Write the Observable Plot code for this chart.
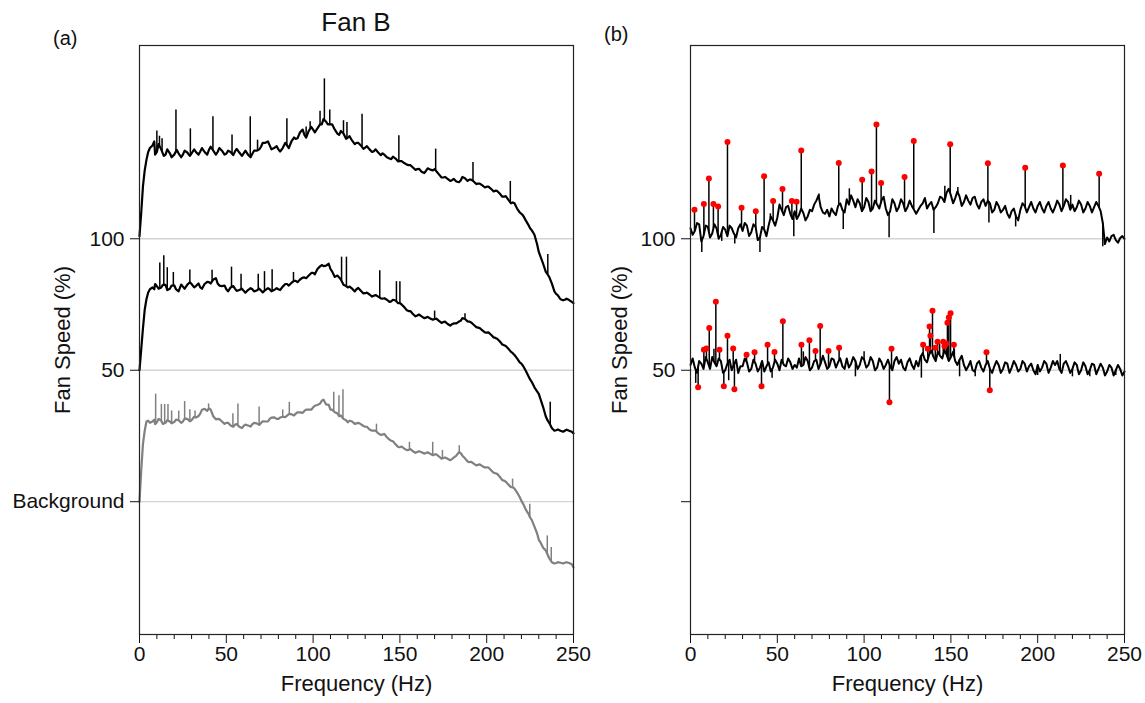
<!DOCTYPE html>
<html><head><meta charset="utf-8">
<script src="https://cdn.jsdelivr.net/npm/d3@7"></script>
<script src="https://cdn.jsdelivr.net/npm/@observablehq/plot@0.6"></script>
<style>
body{margin:0;background:#fff;font-family:"Liberation Sans",Arial,sans-serif;}
#wrap{position:relative;width:1145px;height:703px;overflow:hidden;}
.lbl{position:absolute;font-size:20px;color:#111;line-height:1;white-space:nowrap;}
#pa{position:absolute;left:0;top:0}
#pb{position:absolute;left:600px;top:0}
</style></head><body>
<div id="wrap">
<div id="pa"></div><div id="pb"></div>
<div class="lbl" style="left:53px;top:28px">(a)</div>
<div class="lbl" style="left:604px;top:24px">(b)</div>
<div class="lbl" style="left:356px;top:9px;font-size:26px;transform:translateX(-50%)">Fan B</div>
</div>
<script>
// ---------- Panel (a): spectra, offset per condition ----------
const freqL = [0,1,2,3,4,5,6,7.5,
 10,12.5,15,17.5, 20,22.5,25,27.5, 30,32.5,35,37.5, 40,42.5,45,47.5,
 50,52.5,55,57.5, 60,62.5,65,67.5, 70,72.5,75,77.5, 80,82.5,85,87.5,
 90,92.5,95,97.5, 100,102.5,105,107.5, 110,112.5,115,117.5, 120,122.5,125,127.5,
 130,132.5,135,137.5, 140,142.5,145,147.5, 150,152.5,155,157.5, 160,162.5,165,167.5,
 170,172.5,175,177.5, 180,182.5,185,187.5, 190,192.5,195,197.5, 200,202.5,205,207.5,
 210,212.5,215,217.5, 220,222.5,225,227.5, 230,232.5,235,237.5, 240,242.5,245,247.5, 250];
const fanHigh = [101,110,120,126,130,133,134.5,135.5,
 133,134,132,132.5, 132,132.5,132,132.8, 132.5,133,133.2,133, 133.8,133.5,133,133.5,
 132.3,133,133.2,132.8, 132.5,132,132.3,133.5, 135,136.5,135.5,134.5, 134,134.5,135.5,137,
 138,140.5,139.5,141, 141.5,142,143.5,144.5, 143.5,141.5,139.5,140, 138.5,137.3,136.5,135.5,
 134.7,134,133.3,132.8, 132.5,131,130.3,130.5, 129.5,128.8,128,127.1, 126.5,125.5,125.8,126.3,
 126.5,124.5,123.3,122.8, 122.3,121.8,122.2,123, 122.5,121.8,121,120.3, 119.8,119,118.3,117.2,
 116,114.8,113.8,111.5, 109.5,107,104,101.5, 95,90.5,86.5,83, 79,77,76.8,76.7, 75.5];
const fanLow = [50,58,66,73,77,79.6,80.8,81.5,
 82,81.5,82.5,81, 82.3,80,81.8,82.5, 82.8,82,81.5,82.8, 83.5,84.5,83,82,
 80.8,81.5,81,80.5, 80.2,80.5,80.8,80.3, 80.3,80.5,80.8,80.5, 80.8,81.8,82.8,83.2,
 84,84.5,85.3,86, 87,88.5,90,89.8, 88.5,85.5,85.3,82.5, 81.5,81,80.8,80.2,
 79.3,78.8,78.3,78, 77.2,76.8,76.2,76.5, 75.5,74,72.5,71.4, 70.8,70.5,70,69.7,
 69.5,68.8,68.3,67.6, 67.5,67.8,68.8,69.5, 68.5,67.3,66.2,65.2, 64.3,63.5,62.3,61,
 59.5,58.2,56.5,54.5, 52.5,49.8,46.5,43.5, 41,36,31,28, 27.2,27,27,27, 26];
const background = [0,12,22,27,30.5,30.8,30,30.5,
 30.2,30.8,30,30.5, 30.3,31,30.5,31.5, 31,32,33.5,35.3, 35.5,32.5,31.5,30.5,
 30,29,29.3,28.5, 28.8,29,29.5,29.8, 29.9,30.5,31.5,32.1, 31.5,32.3,32.7,33.3,
 33.5,34,34.5,35, 35.9,36.8,38.4,37, 35,34,32.5,31.5, 30.2,30.5,29.8,29.5,
 28.5,27.5,27,26, 25.5,24.5,23.2,21.8, 20.7,20.2,19.7,19.2, 18.9,18.8,18.5,18.2,
 18,17.2,16.6,16.3, 16.2,17.5,18.5,16.5, 15,14.5,14,13.5, 13.1,12,10.8,9.5,
 8,6.5,5.5,3.5, 0.3,-3,-6,-9.5, -14.5,-17.5,-20,-23, -23.3,-23.2,-23.2,-23.3, -25];
// in-between readings (fine jitter) of each trace: [frequency, value]
const jitterHigh = [[8.5,137],[9,132],[11,136],[14,131.5],[16,134],[18.5,131],[21.5,133.8],[24,131],[26,133.5],[29,131.5],
 [31.5,134],[34,132],[36,134.5],[39,132],[41,135],[44,132],[46,134.5],[49,132],[51,133.5],[54,131.8],[56,134.2],[59,131.5],
 [61,133.5],[64,131],[66,133.5],[69,134],[71,136.5],[74,137],[76,134],[79,135.2],[81,133.2],[84,136.5],[86,134.5],[89,138.5],
 [91,138.2],[94,141.5],[96,138.5],[99,142.5],[101,140.5],[104,143.5],[106,145.5],[108.5,143.5],[111,143.5],[114,140],[116,141],
 [119,138],[121,139],[124,136],[126,136.5],[129,134.2],[131,135.2],[134,133],[136,134],[139,131.8],[141,132],[144,130.5],
 [146,131.2],[149,129.4],[151,129.5],[154,128.2],[156,128],[159,126.2],[161,126.6],[164,125],[166,126.8],[169,126],[171,125.7],
 [174,123.3],[176,123.5],[179,122],[181,122.8],[184,121.5],[186,123.5],[189,122],[191,122.5],[194,120.8],[196,121],[199,119.5],
 [201,119.8],[204,118],[206,118.2],[209,116],[211,116.2],[214,113.5],[216,113.5],[219,110],[221,108.8],[224,105.3],[226,103.2],
 [229,98],[231,93.2],[234,87.5],[236,85.5],[239,80],[241,78.5],[244,76.6],[246,77.2],[249,76]];
const jitterLow = [[8.5,80.8],[9,82.8],[11,81],[13.5,82.5],[16,80.5],[18.5,82.2],[21,80.8],[24,82.6],[26,81],[29,83.5],[31.5,81.5],
 [34,83],[36,81],[39,83.6],[41,83],[44,85],[46,82.2],[49,82.2],[51,80],[54,82],[56,80.2],[59,81],[61,79.5],[64,81.2],[66,80],
 [69,81],[71,79.6],[74,81.2],[76,80],[79,81.2],[81,80.5],[84,82.8],[86,82.2],[89,84],[91,83.5],[94,85.2],[96,85],[99,87],
 [101,86.5],[104,89.5],[106,89.6],[109,90.5],[111,87.5],[114,86],[116,84.5],[119,82],[121,81.8],[124,80],[126,81.3],[129,79.2],
 [131,79.5],[134,78],[136,78.6],[139,77.3],[141,77.4],[144,76],[146,76.8],[149,75.5],[151,75],[154,72.8],[156,72.5],[159,70.5],
 [161,71.2],[164,69.8],[166,70.3],[169,69.2],[171,69.6],[174,68],[176,68.5],[179,67],[181,67.8],[184,68.5],[186,69.8],[189,68.6],
 [191,68.2],[194,66.4],[196,66],[199,64.4],[201,64.4],[204,62.5],[206,62],[209,59.8],[211,59.2],[214,57],[216,55.8],[219,53],
 [221,51.6],[224,47.8],[226,45.5],[229,42],[231,39],[234,32.5],[236,30],[239,27],[241,27.5],[244,26.6],[246,27.4],[249,26.6]];
const jitterBg = [[8.5,31.2],[9,29.5],[11,31.5],[13.5,29.6],[16,31],[18.5,29.8],[21,31.2],[24,30],[26,31.6],[29,30.6],[31.5,32.3],
 [34,32.6],[36,35],[39,34.6],[41,35],[44,31.3],[46,31.4],[49,29.6],[51,30],[54,28.5],[56,29.5],[59,28],[61,29.3],[64,28.6],
 [66,30],[69,29.2],[71,30.6],[74,30.5],[76,32],[79,31.5],[81,32],[84,32.2],[86,33.3],[89,32.8],[91,34],[94,33.8],[96,35],
 [99,35],[101,36.5],[104,37.3],[106,38.8],[109,36.8],[111,35],[114,33.6],[116,32.8],[119,31],[121,30.8],[124,29.6],[126,30],
 [129,28.8],[131,28.5],[134,27],[136,27],[139,25.4],[141,25.8],[144,23.6],[146,23],[149,20.8],[151,21],[154,19.6],[156,20],
 [159,18.6],[161,19.2],[164,18.3],[166,18.8],[169,17.7],[171,18],[174,16.4],[176,16.8],[179,15.8],[181,16.8],[184,18.8],
 [186,17.5],[189,15.3],[191,15.2],[194,13.8],[196,14.2],[199,13],[201,13],[204,11],[206,10.6],[209,8.2],[211,7.6],[214,5.5],
 [216,5],[219,1.8],[221,-0.8],[224,-4.5],[226,-7],[229,-12],[231,-15.5],[234,-18.5],[236,-21.5],[239,-23.5],[241,-23],
 [244,-23.5],[246,-23],[249,-23.8]];
// spikes: [frequency, peak value]
const spikesHigh = [[10,141],[11.5,139],[13,138],[21,149],[29.3,141.8],[42.3,146.4],[53.3,139.5],
 [63.8,146.4],[68,137.5],[84.9,145.6],[96,142.5],[98.3,144.5],[104,148.5],[106.5,160.8],[109.6,149],
 [117.5,144.9],[119.5,144.2],[128.2,147.4],[149.4,139.2],[170.6,134.1],[192.1,129],[213.6,121.8],[235.2,94]];
const spikesLow = [[11.7,90.8],[14,93.5],[16,89],[19.5,87.2],[29,88.1],[41.8,88],[53,89.2],[58.5,86.5],
 [68.4,86.5],[72,87.5],[76.4,88.2],[88.7,87.2],[116.4,93],[119.2,93],[138.4,87.8],[148,83.7],[150,83.7],
 [170,72.5],[187.5,71.5],[236.6,37.8]];
const spikesBg = [[9.3,40.9],[12.6,37],[14.5,37],[16.4,37],[18.5,34.5],[22.6,34.5],[26,38.1],[29,35],[32,34.5],
 [39.8,37.2],[53.8,33.5],[56.7,37.2],[68.9,36],[82.5,34.9],[86.3,37.8],[111.9,41.6],[114.9,40.3],[117.2,42.6],
 [136.5,29.5],[155.5,22.6],[168.9,22.6],[174.5,19.5],[184.2,21.3],[214.9,8.6],[224.8,-1],[234.9,-13],[237.2,-17.4]];

// ---------- Panel (b): difference spectra ----------
const freqR = [0,2.5,5,7.5, 10,12.5,15,17.5, 20,22.5,25,27.5, 30,32.5,35,37.5, 40,42.5,45,47.5,
 50,52.5,55,57.5, 60,62.5,65,67.5, 70,72.5,75,77.5, 80,82.5,85,87.5, 90,92.5,95,97.5,
 100,102.5,105,107.5, 110,112.5,115,117.5, 120,122.5,125,127.5, 130,132.5,135,137.5, 140,142.5,145,147.5,
 150,152.5,155,157.5, 160,162.5,165,167.5, 170,172.5,175,177.5, 180,182.5,185,187.5, 190,192.5,195,197.5,
 200,202.5,205,207.5, 210,212.5,215,217.5, 220,222.5,225,227.5, 230,232.5,235,237.5, 240,242.5,245,247.5, 250];
const diffHigh = [104,103,105.5,101, 104.5,102,104,101.5, 103.5,105,102,104, 103,105,102.5,104.5, 100.5,103.5,105,107,
 108,111,112,109.5, 110.5,109,109.8,108.5, 110.5,114.5,112,109.5, 108.5,110,112.5,111, 115,116.5,112,113.5,
 112,114,111.5,113, 114.5,111.5,110.5,113.5, 112,113.5,112,112.5, 109.5,112.5,115.5,113, 111,113.5,115.5,117.5,
 116.5,115.5,116,114, 114.5,115.5,113,114, 112.5,113.5,111,112.5, 111,109.5,110.5,108.5, 111,112.5,112,111.5,
 112.5,111.5,112.5,111.5, 112,113,112.5,114, 113,112,113,111.5, 112.5,112,112.5,106, 100.5,101,99.5,100.3, 100];
const diffLow = [52,51,53.5,50.5, 53,55,51.5,53.5, 50,54,52,49, 51.5,53,50.5,52.5, 51,49.5,53,51,
 52.5,54,51.5,53, 52,54.5,52,53.5, 51,54,52.5,53, 51.5,54,53,51.5, 54.5,52.5,53.5,52,
 54,52,53.5,51, 53,52,51.5,53.5, 52.5,51,53,52, 53.5,55,54,56, 55,57,54.5,56,
 55,53.5,54,52, 51.5,50,52.5,51, 52,50.5,51.5,52, 50.5,52.5,51,52, 50.5,52.5,51.5,50,
 52,51,52.5,51, 52,50.5,52.5,51.5, 50.5,52,50,51.5, 50,52,50.5,51, 49.5,51,50,50.5, 49.5];
const jitterDiffHigh = [[1.25,101.5],[3.75,106],[6.25,99],[8.75,105],[11.25,100.5],[13.75,105.5],[16.25,100],[18.75,104.5],
 [21.25,101],[23.75,104],[26.25,100.5],[28.75,105.5],[31.25,106],[33.75,101],[36.25,105.5],[38.75,99.5],
 [41.25,104.5],[43.75,101],[46.25,108.5],[48.75,105],[51.25,113],[53.75,109],[56.25,112.5],[58.75,107.5],
 [61.25,107.5],[63.75,111.5],[66.25,107],[68.75,111],[71.25,113],[73.75,116.5],[76.25,110],[78.75,111],
 [81.25,111.5],[83.75,109],[86.25,113.5],[88.75,110],[91.25,113],[93.75,114.5],[96.25,115],[98.75,110.5],
 [101.25,115.5],[103.75,110.5],[106.25,114.5],[108.75,111.5],[111.25,116],[113.75,109],[116.25,115],[118.75,110.5],
 [121.25,115],[123.75,110.5],[126.25,114.5],[128.75,111],[131.25,111],[133.75,113.5],[136.25,111.5],[138.75,114],
 [141.25,112],[143.75,116],[146.25,114],[148.75,119],[151.25,113.5],[153.75,118],[156.25,112.5],[158.75,116.5],
 [161.25,113],[163.75,116],[166.25,111.5],[168.75,115],[171.25,114.5],[173.75,110],[176.25,114],[178.75,110],
 [181.25,112.5],[183.75,108],[186.25,111.5],[188.75,107],[191.25,113.5],[193.75,110],[196.25,114],[198.75,110],
 [201.25,114],[203.75,110],[206.25,114],[208.75,110],[211.25,114.5],[213.75,110.5],[216.25,115],[218.75,111],
 [221.25,110.5],[223.75,114.5],[226.25,110],[228.75,114],[231.25,110],[233.75,114],[236.25,110.5],[238.75,98],
 [241.25,99],[243.75,101.5],[246.25,98.5],[248.75,101]];
const jitterDiffLow = [[1.25,54.5],[3.75,49],[6.25,52.5],[8.75,55],[11.25,50.5],[13.75,53],[16.25,54.5],[18.75,49],
 [21.25,52.5],[23.75,50],[26.25,54],[28.75,51.5],[31.25,54.5],[33.75,49.5],[36.25,54],[38.75,49.5],
 [41.25,53.5],[43.75,51.5],[46.25,49.5],[48.75,54],[51.25,50],[53.75,52],[56.25,54.5],[58.75,50.5],
 [61.25,51],[63.75,51.5],[66.25,55],[68.75,50],[71.25,53.5],[73.75,50.5],[76.25,55.5],[78.75,50.5],
 [81.25,54.5],[83.75,51],[86.25,54.5],[88.75,50.5],[91.25,51],[93.75,55],[96.25,50.5],[98.75,55],
 [101.25,51],[103.75,55],[106.25,50],[108.75,54.5],[111.25,50.5],[113.75,54],[116.25,50],[118.75,55],
 [121.25,54],[123.75,50],[126.25,54.5],[128.75,50.5],[131.25,51.5],[133.75,56.5],[136.25,53],[138.75,57.5],
 [141.25,53.5],[143.75,55.5],[146.25,57.5],[148.75,53.5],[151.25,57],[153.75,52],[156.25,55.5],[158.75,50],
 [161.25,53.5],[163.75,49.5],[166.25,53.5],[168.75,49.5],[171.25,53.5],[173.75,49],[176.25,53.5],[178.75,49],
 [181.25,53],[183.75,49],[186.25,53.5],[188.75,49.5],[191.25,53.5],[193.75,49.5],[196.25,52.5],[198.75,48.5],
 [201.25,49.5],[203.75,53.5],[206.25,49],[208.75,53.5],[211.25,53.5],[213.75,49],[216.25,53.5],[218.75,49],
 [221.25,53],[223.75,48.5],[226.25,53],[228.75,48.5],[231.25,52.5],[233.75,48.5],[236.25,52.5],[238.75,48],
 [241.25,52],[243.75,48],[246.25,52],[248.75,48]];
// excursions without markers: [frequency, value]
const dipsHigh = [[6.5,94.8],[18,99],[25.5,98],[40,94.8],[59.5,100.8],[88,103.5],[114.4,100.4],[140.2,102],
 [171.9,106],[187.3,104.5],[237.5,97],[239,99],[46,109.5],[74,117],[91.5,119],[146.5,120],[154,119.5],[219,116.5]];
const dipsLow = [[3,45],[22,46],[47,47],[95,47.5],[133,47],[155,47.5],[200,48],[220,47.5],[230,47.5],[245,48],
 [65,57],[100,57],[213,56],[13.5,58],[143.5,60],[152,58],[164,47.5]];
// detected peaks (red markers): [frequency, value]
const peaksHigh = [[2.3,111],[7.7,113.2],[10.6,122.9],[13.2,113.2],[15.9,112.3],[21.3,136.8],[29.4,111.8],[37.6,110.5],
 [42.4,123.8],[47.6,114.4],[53,118.9],[58.4,114.4],[61.1,114.1],[63.8,133.6],[85.4,128.8],[98.9,122.4],[104.3,125.6],
 [107.1,143.5],[109.8,121.2],[123.3,123.5],[128.6,137.2],[149.6,135.9],[171.3,128.7],[192.8,127],[214.5,127.9],[235.4,124.7]];
const peaksLow = [[4.4,43.5],[7.7,57.8],[9.2,58.3],[10.8,66.1],[14.6,76],[16.7,57.8],[19.2,43.9],[21.3,63.1],[24.6,58.3],
 [25.3,42.8],[32.3,55.9],[36.9,56.8],[40.9,43.9],[44.4,59.7],[48.4,56.9],[53.2,68.6],[63.9,59.7],[68.5,61.4],[72,57.3],
 [74.7,66.8],[79.5,57.3],[85.6,58.6],[114.6,37.8],[115.8,58.2],[134,59.7],[136.7,58.2],[137.7,66.6],[138.2,63.1],
 [139.4,72.6],[141,58.6],[142.3,60.8],[145.6,60.8],[146.3,59.1],[147.3,60.1],[148,68.1],[148.8,70.1],[149.8,71.7],
 [151.7,59.7],[170.5,56.8],[172.4,42.4]];

// ---------- axes text ----------
const xTicks = [0,50,100,150,200,250];
const xMinor = [10,20,30,40,60,70,80,90,110,120,130,140,160,170,180,190,210,220,230,240];
const yTicks = [0,50,100];
const yTickTextA = ["Background","50","100"];
const yTickTextB = ["","50","100"];
const gridA = [0,50,100];
const gridB = [50,100];
const xTitle = "Frequency (Hz)";
const yTitle = "Fan Speed (%)";

// combine regular readings with in-between readings, ordered by frequency
function combine(xs, ys, extra) {
  return xs.map((x, i) => [x, ys[i]]).concat(extra).sort((a, b) => a[0] - b[0]);
}
function baseAt(pts, f) {
  const i = d3.bisector(d => d[0]).right(pts, f);
  if (i <= 0) return pts[0][1];
  if (i >= pts.length) return pts[pts.length - 1][1];
  const a = pts[i-1], b = pts[i];
  return a[1] + (f - a[0]) / (b[0] - a[0]) * (b[1] - a[1]);
}

const common = {
  height: 703, marginTop: 45, marginBottom: 69,
  x: {domain: [0, 250]},
  y: {domain: [-50.5, 173.5]},
  style: {fontFamily: "'Liberation Sans', Arial, sans-serif", fontSize: "21px", color: "#111", background: "white", overflow: "visible"}
};

function axes(tickText, dxTitle) {
  return [
    Plot.axisX(xTicks, {tickSize: 9, tickPadding: 3, fontSize: 21, label: null}),
    Plot.axisX(xMinor, {tickSize: 5, tickFormat: () => "", label: null}),
    Plot.axisY(yTicks, {tickSize: 9, tickPadding: 6, fontSize: 21, label: null, tickFormat: d => tickText[yTicks.indexOf(d)]}),
    Plot.text([xTitle], {frameAnchor: "bottom", dy: 56, fontSize: 22, textAnchor: "middle"}),
    Plot.text([yTitle], {frameAnchor: "left", dx: dxTitle, rotate: -90, fontSize: 22, textAnchor: "middle", lineAnchor: "middle"}),
    Plot.frame({stroke: "#222", strokeWidth: 1.2})
  ];
}

function trace(pts, spikeLists, color, w) {
  return [
    ...spikeLists.map(list => Plot.ruleX(list, {x: d => d[0], y1: d => baseAt(pts, d[0]), y2: d => d[1], stroke: color, strokeWidth: 1.5})),
    Plot.line(pts, {x: d => d[0], y: d => d[1], stroke: color, strokeWidth: w, strokeLinejoin: "round"})
  ];
}

const ptsHigh = combine(freqL, fanHigh, jitterHigh);
const ptsLow = combine(freqL, fanLow, jitterLow);
const ptsBg = combine(freqL, background, jitterBg);
const ptsDiffHigh = combine(freqR, diffHigh, jitterDiffHigh);
const ptsDiffLow = combine(freqR, diffLow, jitterDiffLow);

const plotA = Plot.plot({
  ...common, width: 600, marginLeft: 139, marginRight: 27,
  marks: [
    Plot.ruleY(gridA, {stroke: "#d4d4d4", strokeWidth: 1.3}),
    ...trace(ptsBg, [spikesBg], "#808080", 2.2),
    ...trace(ptsLow, [spikesLow], "#000", 2.2),
    ...trace(ptsHigh, [spikesHigh], "#000", 2.2),
    ...axes(yTickTextA, -77)
  ]
});
document.getElementById("pa").appendChild(plotA);

const plotB = Plot.plot({
  ...common, width: 545, marginLeft: 90, marginRight: 21,
  marks: [
    Plot.ruleY(gridB, {stroke: "#d4d4d4", strokeWidth: 1.3}),
    ...trace(ptsDiffLow, [dipsLow, peaksLow], "#000", 2),
    ...trace(ptsDiffHigh, [dipsHigh, peaksHigh], "#000", 2),
    Plot.dot(peaksHigh, {x: d => d[0], y: d => d[1], r: 3, fill: "#ff0000", stroke: "none"}),
    Plot.dot(peaksLow, {x: d => d[0], y: d => d[1], r: 3, fill: "#ff0000", stroke: "none"}),
    ...axes(yTickTextB, -71)
  ]
});
document.getElementById("pb").appendChild(plotB);
</script>
</body></html>
